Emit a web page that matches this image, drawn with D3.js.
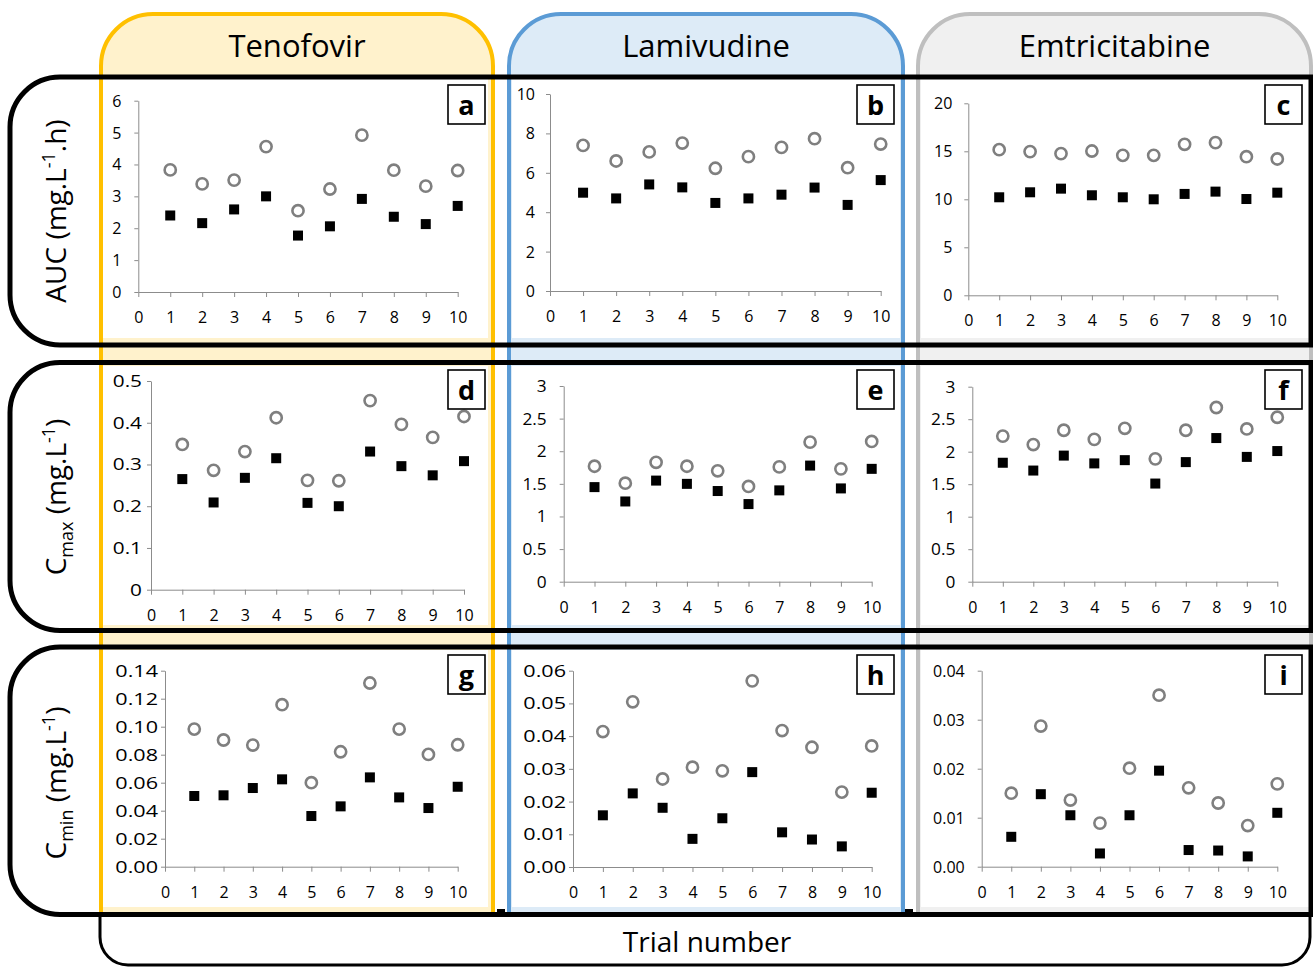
<!DOCTYPE html>
<html><head><meta charset="utf-8">
<script src="https://cdn.jsdelivr.net/npm/d3@7"></script>
<style>
body{margin:0;background:#fff}
svg{display:block}
text{font-family:"Open Sans",sans-serif}
</style>
</head><body>
<svg id="chart" width="1313" height="967"></svg>
<script>
// ---------------- DATA ----------------
const trials = [1,2,3,4,5,6,7,8,9,10];
const xTickValues = [0,1,2,3,4,5,6,7,8,9,10];
const xTickLabels = ["0","1","2","3","4","5","6","7","8","9","10"];
const drugs = ["Tenofovir","Lamivudine","Emtricitabine"];
const panelLetters = ["a","b","c","d","e","f","g","h","i"];
const xAxisTitle = "Trial number";

// AUC (mg.L-1.h)
const aucTenofovirOpen = [3.83,3.39,3.51,4.56,2.55,3.23,4.92,3.82,3.32,3.81];
const aucTenofovirFilled = [2.40,2.16,2.59,3.00,1.77,2.06,2.92,2.36,2.13,2.70];
const aucLamivudineOpen = [7.39,6.60,7.06,7.51,6.23,6.82,7.29,7.73,6.26,7.46];
const aucLamivudineFilled = [4.99,4.70,5.41,5.26,4.47,4.70,4.89,5.25,4.37,5.63];
const aucEmtricitabineOpen = [15.17,14.97,14.76,15.03,14.58,14.58,15.73,15.90,14.44,14.20];
const aucEmtricitabineFilled = [10.21,10.73,11.11,10.42,10.21,10.00,10.56,10.80,10.03,10.69];
// Cmax (mg.L-1)
const cmaxTenofovirOpen = [0.348,0.286,0.331,0.412,0.262,0.261,0.453,0.396,0.365,0.415];
const cmaxTenofovirFilled = [0.265,0.209,0.268,0.315,0.208,0.200,0.331,0.296,0.274,0.308];
const cmaxLamivudineOpen = [1.77,1.51,1.83,1.77,1.70,1.46,1.76,2.14,1.73,2.15];
const cmaxLamivudineFilled = [1.45,1.23,1.55,1.50,1.39,1.19,1.40,1.78,1.43,1.73];
const cmaxEmtricitabineOpen = [2.24,2.11,2.33,2.19,2.36,1.89,2.33,2.68,2.35,2.53];
const cmaxEmtricitabineFilled = [1.83,1.71,1.94,1.82,1.87,1.51,1.84,2.21,1.92,2.01];
// Cmin (mg.L-1)
const cminTenofovirOpen = [0.0983,0.0905,0.0869,0.1157,0.0600,0.0821,0.1312,0.0983,0.0802,0.0871];
const cminTenofovirFilled = [0.0505,0.0510,0.0562,0.0624,0.0362,0.0431,0.0638,0.0495,0.0419,0.0571];
const cminLamivudineOpen = [0.0414,0.0505,0.0269,0.0305,0.0294,0.0569,0.0417,0.0366,0.0229,0.0370];
const cminLamivudineFilled = [0.0158,0.0225,0.0181,0.0086,0.0149,0.0290,0.0106,0.0084,0.0063,0.0227];
const cminEmtricitabineOpen = [0.0150,0.0287,0.0136,0.0089,0.0201,0.0350,0.0161,0.0130,0.0084,0.0169];
const cminEmtricitabineFilled = [0.0061,0.0148,0.0105,0.0027,0.0105,0.0196,0.0034,0.0033,0.0021,0.0110];

// Y tick values and labels
const yTicksAucT = [0,1,2,3,4,5,6];
const yLabelsAucT = ["0","1","2","3","4","5","6"];
const yTicksAucL = [0,2,4,6,8,10];
const yLabelsAucL = ["0","2","4","6","8","10"];
const yTicksAucE = [0,5,10,15,20];
const yLabelsAucE = ["0","5","10","15","20"];
const yTicksCmaxT = [0,0.1,0.2,0.3,0.4,0.5];
const yLabelsCmaxT = ["0","0.1","0.2","0.3","0.4","0.5"];
const yTicksCmaxL = [0,0.5,1,1.5,2,2.5,3];
const yLabelsCmaxL = ["0","0.5","1","1.5","2","2.5","3"];
const yTicksCmaxE = [0,0.5,1,1.5,2,2.5,3];
const yLabelsCmaxE = ["0","0.5","1","1.5","2","2.5","3"];
const yTicksCminT = [0,0.02,0.04,0.06,0.08,0.10,0.12,0.14];
const yLabelsCminT = ["0.00","0.02","0.04","0.06","0.08","0.10","0.12","0.14"];
const yTicksCminL = [0,0.01,0.02,0.03,0.04,0.05,0.06];
const yLabelsCminL = ["0.00","0.01","0.02","0.03","0.04","0.05","0.06"];
const yTicksCminE = [0,0.01,0.02,0.03,0.04];
const yLabelsCminE = ["0.00","0.01","0.02","0.03","0.04"];

// ---------------- LAYOUT ----------------
const W = 1313, H = 967;
const colBoxes = [
  {l:101, r:493, fill:"#FFF2CC", stroke:"#FFC000"},
  {l:509, r:903, fill:"#DDEBF7", stroke:"#5B9BD5"},
  {l:918, r:1311, fill:"#F0F0F0", stroke:"#BFBFBF"}
];
const colTop = 14, colBottom = 914, colR = 52;
const rowBoxes = [{t:77,b:345},{t:362.5,b:630.5},{t:647,b:914.5}];
const rowL = 10, rowRight = 1311, rowR = 50;
const whiteCols = [[103,488],[512,900],[921,1313]];
const whiteRows = [[79,338],[366,625],[650,907]];
const letterRight = [485, 894, 1302];
const letterTop = [85, 370, 655];

const panelData = [
  {open:aucTenofovirOpen, filled:aucTenofovirFilled, ticks:yTicksAucT, labels:yLabelsAucT},
  {open:aucLamivudineOpen, filled:aucLamivudineFilled, ticks:yTicksAucL, labels:yLabelsAucL},
  {open:aucEmtricitabineOpen, filled:aucEmtricitabineFilled, ticks:yTicksAucE, labels:yLabelsAucE},
  {open:cmaxTenofovirOpen, filled:cmaxTenofovirFilled, ticks:yTicksCmaxT, labels:yLabelsCmaxT},
  {open:cmaxLamivudineOpen, filled:cmaxLamivudineFilled, ticks:yTicksCmaxL, labels:yLabelsCmaxL},
  {open:cmaxEmtricitabineOpen, filled:cmaxEmtricitabineFilled, ticks:yTicksCmaxE, labels:yLabelsCmaxE},
  {open:cminTenofovirOpen, filled:cminTenofovirFilled, ticks:yTicksCminT, labels:yLabelsCminT},
  {open:cminLamivudineOpen, filled:cminLamivudineFilled, ticks:yTicksCminL, labels:yLabelsCminL},
  {open:cminEmtricitabineOpen, filled:cminEmtricitabineFilled, ticks:yTicksCminE, labels:yLabelsCminE}
];
const panelLayout = [
  {x0:138.3, x1:457.7, yb:292,   yt:100.7, gap:17, s:1},
  {x0:550,   x1:880.7, yb:291,   yt:94,    gap:15, s:1},
  {x0:968.3, x1:1277.3,yb:295.3, yt:103.3, gap:16, s:1},
  {x0:151,   x1:464,   yb:589.7, yt:381,   gap:9,  s:1.3},
  {x0:563.7, x1:871.7, yb:581.7, yt:386,   gap:17, s:1.08},
  {x0:972.3, x1:1277.3,yb:581.7, yt:386.7, gap:17, s:1.08},
  {x0:165,   x1:457.7, yb:866.7, yt:670.7, gap:7,  s:1.35},
  {x0:573,   x1:871.7, yb:867,   yt:670.7, gap:7,  s:1.35},
  {x0:981.7, x1:1277.3,yb:866.7, yt:670.7, gap:17, s:1}
];

const svg = d3.select("#chart");
svg.append("rect").attr("width",W).attr("height",H).attr("fill","#fff");

// column boxes
colBoxes.forEach((c,i)=>{
  const p = `M${c.l},${colBottom} V${colTop+colR} A${colR},${colR} 0 0 1 ${c.l+colR},${colTop} H${c.r-colR} A${colR},${colR} 0 0 1 ${c.r},${colTop+colR} V${colBottom}`;
  svg.append("path").attr("d",p).attr("fill",c.fill).attr("stroke",c.stroke).attr("stroke-width",4);
  svg.append("text").attr("x",(c.l+c.r)/2).attr("y",57).attr("text-anchor","middle")
    .attr("font-size",31).attr("fill","#000").text(drugs[i]);
});

// white chart areas
whiteRows.forEach(r=>whiteCols.forEach(c=>{
  svg.append("rect").attr("x",c[0]).attr("y",r[0]).attr("width",c[1]-c[0]).attr("height",r[1]-r[0]).attr("fill","#fff");
}));

// row boxes
rowBoxes.forEach(r=>{
  const p = `M${rowRight},${r.t} H${rowL+rowR} A${rowR},${rowR} 0 0 0 ${rowL},${r.t+rowR} V${r.b-rowR} A${rowR},${rowR} 0 0 0 ${rowL+rowR},${r.b} H${rowRight} Z`;
  svg.append("path").attr("d",p).attr("fill","none").attr("stroke","#000").attr("stroke-width",5);
});

// Trial number box
{
  const l=100, rr=1310, t=914.5, b=965, rad=28;
  const p = `M${l},${t} V${b-rad} A${rad},${rad} 0 0 0 ${l+rad},${b} H${rr-rad} A${rad},${rad} 0 0 0 ${rr},${b-rad} V${t}`;
  svg.append("path").attr("d",p).attr("fill","none").attr("stroke","#000").attr("stroke-width",3);
  svg.append("text").attr("x",707).attr("y",952).attr("text-anchor","middle").attr("font-size",28).text(xAxisTitle);
  // small dark joints between column boxes at the bottom
  [501, 909].forEach(cx=>{
    svg.append("rect").attr("x",cx-4).attr("y",909).attr("width",8).attr("height",6).attr("fill","#000");
  });
}

// row labels
const rowLabelCenters = [211, 497, 783];
function rowLabel(i, build){
  const t = svg.append("text").attr("transform",`translate(66,${rowLabelCenters[i]}) rotate(-90)`)
    .attr("text-anchor","middle").attr("font-size",28).attr("fill","#000");
  build(t);
}
rowLabel(0, t=>{
  t.append("tspan").text("AUC (mg.L");
  t.append("tspan").attr("dy",-11).attr("font-size",18).text("-1");
  t.append("tspan").attr("dy",11).text(".h)");
});
rowLabel(1, t=>{
  t.append("tspan").text("C");
  t.append("tspan").attr("dy",7).attr("font-size",18).text("max");
  t.append("tspan").attr("dy",-7).text(" (mg.L");
  t.append("tspan").attr("dy",-11).attr("font-size",18).text("-1");
  t.append("tspan").attr("dy",11).text(")");
});
rowLabel(2, t=>{
  t.append("tspan").text("C");
  t.append("tspan").attr("dy",7).attr("font-size",18).text("min");
  t.append("tspan").attr("dy",-7).text(" (mg.L");
  t.append("tspan").attr("dy",-11).attr("font-size",18).text("-1");
  t.append("tspan").attr("dy",11).text(")");
});

// panels
const axisColor = "#8c8c8c";
panelData.forEach((pd,k)=>{
  const L = panelLayout[k];
  const row = Math.floor(k/3), col = k%3;
  const x = d3.scaleLinear().domain([0,10]).range([L.x0,L.x1]);
  const y = d3.scaleLinear().domain([0,d3.max(pd.ticks)]).range([L.yb,L.yt]);
  const g = svg.append("g");

  const xa = g.append("g").attr("transform",`translate(0,${L.yb})`)
    .call(d3.axisBottom(x).tickValues(xTickValues).tickFormat((d,i)=>xTickLabels[i]).tickSize(5).tickSizeOuter(0).tickPadding(14.5));
  const ya = g.append("g").attr("transform",`translate(${L.x0},0)`)
    .call(d3.axisLeft(y).tickValues(pd.ticks).tickFormat((d,i)=>pd.labels[i]).tickSize(4).tickSizeOuter(0));
  [xa,ya].forEach(a=>{
    a.select(".domain").attr("stroke",axisColor);
    a.selectAll(".tick line").attr("stroke",axisColor);
    a.selectAll("text").attr("font-family","'Open Sans',sans-serif").attr("font-size",16).attr("fill","#000");
  });
  ya.selectAll("text").attr("x",-L.gap/L.s).attr("transform",`scale(${L.s},1)`).attr("dy","0.34em");

  // open circles
  g.selectAll("circle.open").data(trials).join("circle")
    .attr("cx",d=>x(d)).attr("cy",(d,i)=>y(pd.open[i])).attr("r",5.6)
    .attr("fill","none").attr("stroke","#7f7f7f").attr("stroke-width",2.6);
  // filled squares
  const sq = 10;
  g.selectAll("rect.filled").data(trials).join("rect")
    .attr("x",d=>x(d)-sq/2).attr("y",(d,i)=>y(pd.filled[i])-sq/2).attr("width",sq).attr("height",sq)
    .attr("fill","#000");

  // panel letter box
  const bx = letterRight[col]-37, by = letterTop[row];
  g.append("rect").attr("x",bx).attr("y",by).attr("width",37).attr("height",39)
    .attr("fill","#fff").attr("stroke","#000").attr("stroke-width",1.6);
  g.append("text").attr("x",bx+18.5).attr("y",by+30).attr("text-anchor","middle")
    .attr("font-family","'Liberation Sans',Arial,sans-serif").attr("font-weight","bold").attr("font-size",27)
    .text(panelLetters[k]);
});
</script>
</body></html>
